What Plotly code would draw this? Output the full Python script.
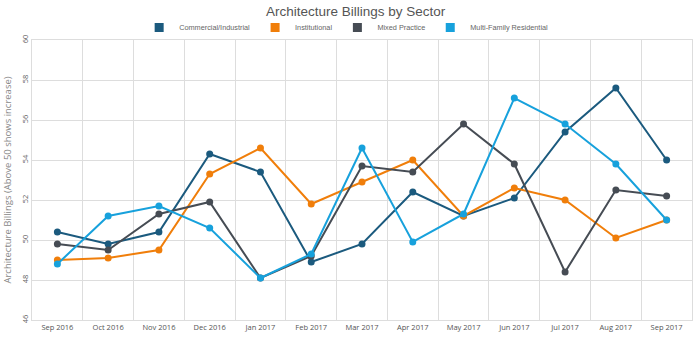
import plotly.graph_objects as go

months = ["Sep 2016", "Oct 2016", "Nov 2016", "Dec 2016", "Jan 2017", "Feb 2017", "Mar 2017",
          "Apr 2017", "May 2017", "Jun 2017", "Jul 2017", "Aug 2017", "Sep 2017"]
commercial = [50.4, 49.8, 50.4, 54.3, 53.4, 48.9, 49.8, 52.4, 51.2, 52.1, 55.4, 57.6, 54.0]
institutional = [49.0, 49.1, 49.5, 53.3, 54.6, 51.8, 52.9, 54.0, 51.2, 52.6, 52.0, 50.1, 51.0]
mixed = [49.8, 49.5, 51.3, 51.9, 48.1, 49.2, 53.7, 53.4, 55.8, 53.8, 48.4, 52.5, 52.2]
multifamily = [48.8, 51.2, 51.7, 50.6, 48.1, 49.3, 54.6, 49.9, 51.3, 57.1, 55.8, 53.8, 51.0]

series = [
    ("Commercial/Industrial", commercial, "#1b5a7e"),
    ("Institutional", institutional, "#f07e0a"),
    ("Mixed Practice", mixed, "#464c54"),
    ("Multi-Family Residential", multifamily, "#17a1dc"),
]

fig = go.Figure()
for name, vals, col in series:
    fig.add_trace(go.Scatter(
        x=months, y=vals, name=name, mode="lines+markers",
        line=dict(color=col, width=2),
        marker=dict(color=col, size=7),
        showlegend=False,
    ))
for name, vals, col in series:
    fig.add_trace(go.Scatter(
        x=[None], y=[None], name=name, mode="markers",
        marker=dict(color=col, size=9, symbol="square"),
        showlegend=True,
    ))

fig.update_layout(
    width=700, height=342,
    margin=dict(l=31, r=7, t=40, b=22),
    paper_bgcolor="white", plot_bgcolor="white",
    title=dict(text="Architecture Billings by Sector", x=0.508, xanchor="center",
               y=1 - 11 / 342, yanchor="middle",
               font=dict(family="Liberation Sans, Arial", size=13.5, color="#555555")),
    legend=dict(orientation="h", x=0.476, xanchor="center", y=1.045, yanchor="middle",
                font=dict(family="Liberation Sans, Arial", size=7.3, color="#666666"),
                itemwidth=30, tracegroupgap=0, bgcolor="rgba(0,0,0,0)"),
    showlegend=True,
)
fig.update_xaxes(
    type="category", range=[-0.5, 12.5], tickson="boundaries",
    showgrid=True, gridcolor="#dddddd", gridwidth=1,
    showline=True, linecolor="#dddddd", mirror=True,
    ticks="", zeroline=False,
    tickfont=dict(family="Open Sans", size=7.5, color="#555555"),
)
fig.update_yaxes(
    range=[46, 60], dtick=2, tick0=46,
    showgrid=True, gridcolor="#dddddd", gridwidth=1,
    showline=True, linecolor="#dddddd", mirror=True,
    zeroline=False, ticks="", tickangle=-90,
    tickfont=dict(family="Open Sans", size=7.5, color="#666666"),
    title=dict(text="Architecture Billings (Above 50 shows increase)", standoff=6,
               font=dict(family="Open Sans", size=9.5, color="#888888")),
)

fig.write_html("out.html")
